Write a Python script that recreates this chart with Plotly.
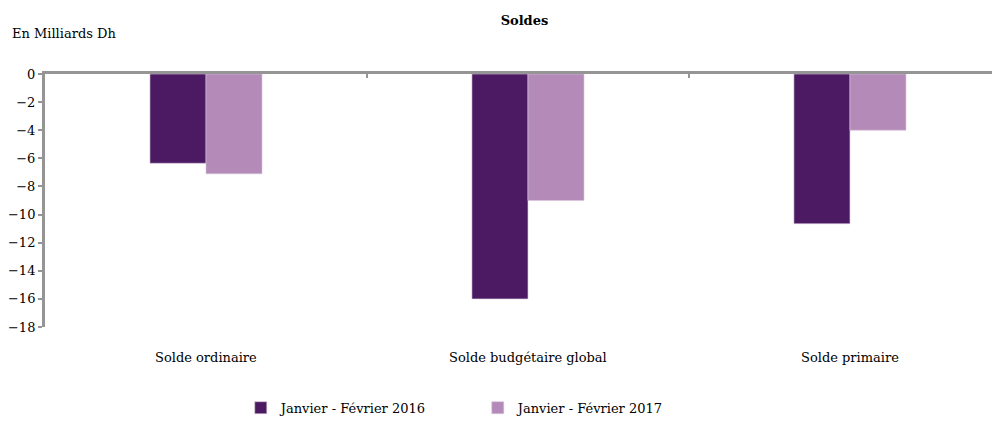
import plotly.graph_objects as go

categories = ["Solde ordinaire", "Solde budgétaire global", "Solde primaire"]
series_names = ["Janvier - Février 2016", "Janvier - Février 2017"]
values_2016 = [-6.35, -16.0, -10.65]
values_2017 = [-7.1, -9.0, -4.0]
y_ticks = [0, -2, -4, -6, -8, -10, -12, -14, -16, -18]

colors = ["#4B1A62", "#B38AB8"]
font_family = "DejaVu Serif"

fig = go.Figure()
for name, vals, col in zip(series_names, [values_2016, values_2017], colors):
    fig.add_trace(go.Bar(
        x=categories, y=vals, name=name,
        marker=dict(color=col, line=dict(color="#D8C4DC", width=0.6)),
    ))

# category labels below the plot area
for cat in categories:
    fig.add_annotation(x=cat, y=0, xref="x", yref="paper", text=cat,
                       showarrow=False, yanchor="top", yshift=-21,
                       font=dict(size=13, color="black", family=font_family))

fig.add_annotation(x=-35/955, xref="paper", y=1 + 42/260, yref="paper",
                   text="En Milliards Dh", showarrow=False,
                   xanchor="left", yanchor="middle",
                   font=dict(size=13, color="black", family=font_family))

# page body has an 8px margin, so the figure is drawn 8px smaller and offset
fig.update_layout(
    width=992, height=415,
    margin=dict(l=37, r=0, t=66, b=89),
    paper_bgcolor="white", plot_bgcolor="white",
    font=dict(family=font_family, size=13, color="black"),
    title=dict(text="<b>Soldes</b>", x=(37 + 955 * 0.5) / 992 + 0.002, xanchor="center",
               y=1 - 12 / 415, yanchor="middle", font=dict(size=13, family=font_family)),
    barmode="group", bargap=0.652, bargroupgap=0,
    showlegend=True,
    legend=dict(orientation="h", x=0.205, xanchor="left", y=-83 / 260, yanchor="middle",
                font=dict(size=13, family=font_family), entrywidthmode="pixels",
                entrywidth=192, itemwidth=30),
    xaxis=dict(side="top", range=[-0.5, 2.466], showline=True, linecolor="#959595",
               linewidth=3, ticks="inside", tickson="boundaries", ticklen=4,
               tickcolor="#959595", tickwidth=2, showticklabels=False,
               showgrid=False, zeroline=False, automargin=False),
    yaxis=dict(range=[-18, 0], tickvals=y_ticks, showline=True, linecolor="#959595",
               linewidth=3, ticks="outside", ticklen=4, tickcolor="#959595", tickwidth=2,
               showgrid=False, zeroline=False, automargin=False,
               tickfont=dict(size=13, family=font_family)),
)

fig.write_html("out.html")
